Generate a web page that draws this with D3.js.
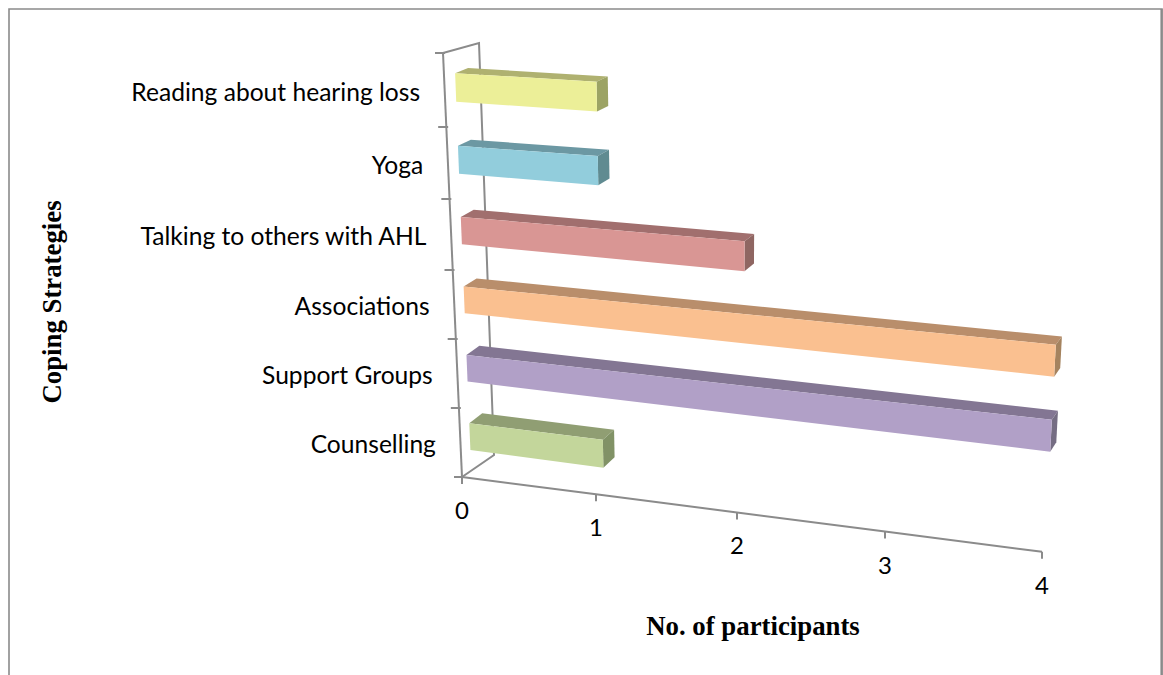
<!DOCTYPE html>
<html>
<head>
<meta charset="utf-8">
<script src="https://cdn.jsdelivr.net/npm/d3@7/dist/d3.min.js"></script>
<style>
html,body{margin:0;padding:0;background:#fff;overflow:hidden}
svg{display:block}
</style>
</head>
<body>
<svg id="chart" width="1163" height="675"></svg>
<script>
// Data, bottom to top as in the chart's category axis
const categories = ["Counselling", "Support Groups", "Associations", "Talking to others with AHL", "Yoga", "Reading about hearing loss"];
const values = [1, 4, 4, 2, 1, 1];
const xTicks = [0, 1, 2, 3, 4];
const frontColors = ["#c3d69b", "#b1a0c7", "#fac090", "#d99694", "#92cddc", "#ecef98"];
const xTitle = "No. of participants";
const yTitle = "Coping Strategies";

const svg = d3.select("#chart");

// Perspective box mapped by scales: v = value, c = category position, d = depth 0..1
const run = d3.scaleLinear().domain(xTicks).range([0, 134, 275, 423, 580]);
const leftY = d3.scaleLinear().domain([0, 1, 2, 3, 4, 5, 6]).range([477, 408, 339, 270, 199, 127, 53]);
const leftX = d3.scaleLinear().domain([0, 6]).range([462, 443]);
const barShift = d3.scaleLinear().domain([0, 6]).range([-2, 0]);
const slope = d3.scaleLinear().domain([0, 6]).range([0.131, 0.0552]);
const widen = d3.scaleLinear().domain([0, 6]).range([1, 1.07]);
const flare = d3.scaleLinear().domain([0, 4]).range([0, 0.035]);
const depthX = d3.scaleLinear().domain([0, 4]).range([34, 16]);
const depthY = d3.scaleLinear().domain([0, 6]).range([-22, -10]);

function proj(v, c, dh, dv) {
  const dx = run(v) * widen(c);
  return [leftX(c) + barShift(c) + dx + dh * depthX(v), leftY(c) + dx * slope(c) + dv * depthY(c)];
}
function axisProj(v, c, d) { // back-wall depth offset is taken at the axis origin
  const dx = run(v);
  const s = d3.scaleLinear().domain([0, 6]).range([0.129, 0.0552])(c);
  return [leftX(c) + dx + d * (c === 6 ? 36 : 32), leftY(c) + dx * s + d * depthY(c)];
}
const pathOf = pts => d3.line()(pts) + "Z";

// Page frame
const frame = svg.append("g").attr("fill", "none");
frame.append("path").attr("d", "M9 675V9H1162V675").attr("stroke", "#8a8a8a").attr("stroke-width", 1.6);
frame.append("path").attr("d", "M1161.5 9V675").attr("stroke", "#8a8a8a").attr("stroke-width", 2.2);

// Axis lines
const axisColor = "#8b8b8b";
const axes = svg.append("g").attr("fill", "none").attr("stroke", axisColor).attr("stroke-width", 2);
axes.append("path").attr("d", d3.line()([axisProj(0, 6, 0), axisProj(0, 0, 0)]));
axes.append("path").attr("d", d3.line()([axisProj(0, 6, 0), axisProj(0, 6, 1), axisProj(0, 0, 1), axisProj(0, 0, 0)]));
axes.append("path").attr("d", d3.line()(xTicks.map(v => axisProj(v, 0, 0))));
axes.selectAll(".xt").data(xTicks).join("path")
  .attr("d", v => { const p = axisProj(v, 0, 0); return d3.line()([p, [p[0], p[1] + 7]]); });
axes.selectAll(".yt").data(d3.range(0, 7)).join("path")
  .attr("d", c => { const p = axisProj(0, c, 0); return d3.line()([[p[0] - 8, p[1]], [p[0] + 2, p[1]]]); });

// Bars
const cLow = 0.29, cHigh = 0.68, dFront = 0.33, dBackH = 0.71, dBackV = 0.82;
const bars = svg.append("g").selectAll("g").data(categories).join("g");
bars.each(function (name, i) {
  const g = d3.select(this), v = values[i], col = frontColors[i];
  const c0 = i + cLow, c1 = i + cHigh, c0End = c0 - flare(v);
  const shade = d3.color(col);
  const top = d3.rgb(shade.r * 0.74, shade.g * 0.74, shade.b * 0.74).formatHex();
  const side = d3.rgb(shade.r * 0.66, shade.g * 0.68, shade.b * 0.66).formatHex();
  g.append("path").attr("fill", top)
    .attr("d", pathOf([proj(0, c1, dFront, dFront), proj(0, c1, dBackH, dBackV), proj(v, c1, dBackH, dBackV), proj(v, c1, dFront, dFront)]));
  g.append("path").attr("fill", side)
    .attr("d", pathOf([proj(v, c1, dFront, dFront), proj(v, c1, dBackH, dBackV), proj(v, c0End, dBackH, dBackV), proj(v, c0End, dFront, dFront)]));
  g.append("path").attr("fill", col)
    .attr("d", pathOf([proj(0, c1, dFront, dFront), proj(v, c1, dFront, dFront), proj(v, c0End, dFront, dFront), proj(0, c0, dFront, dFront)]));
});

// Category labels
svg.append("g").selectAll("text").data(categories).join("text")
  .attr("x", (d, i) => leftX(i + 0.5) - 24.5)
  .attr("y", (d, i) => (leftY(i) + leftY(i + 1)) / 2 + 10.5)
  .attr("text-anchor", "end")
  .attr("font-family", "Lato, 'Open Sans', sans-serif")
  .attr("font-size", 24.6)
  .attr("fill", "#000")
  .text(d => d);

// Value tick labels
svg.append("g").selectAll("text").data(xTicks).join("text")
  .attr("x", v => axisProj(v, 0, 0)[0])
  .attr("y", v => axisProj(v, 0, 0)[1] + 42)
  .attr("text-anchor", "middle")
  .attr("font-family", "Lato, 'Open Sans', sans-serif")
  .attr("font-size", 24)
  .attr("fill", "#000")
  .text(d => d);

// Axis titles
svg.append("text").attr("x", 753).attr("y", 635).attr("text-anchor", "middle")
  .attr("font-family", "'Liberation Serif', serif").attr("font-weight", "bold").attr("font-size", 26.8)
  .text(xTitle);
svg.append("text").attr("transform", "translate(61,302) rotate(-90)").attr("text-anchor", "middle")
  .attr("font-family", "'Liberation Serif', serif").attr("font-weight", "bold").attr("font-size", 26.8)
  .text(yTitle);
</script>
</body>
</html>
